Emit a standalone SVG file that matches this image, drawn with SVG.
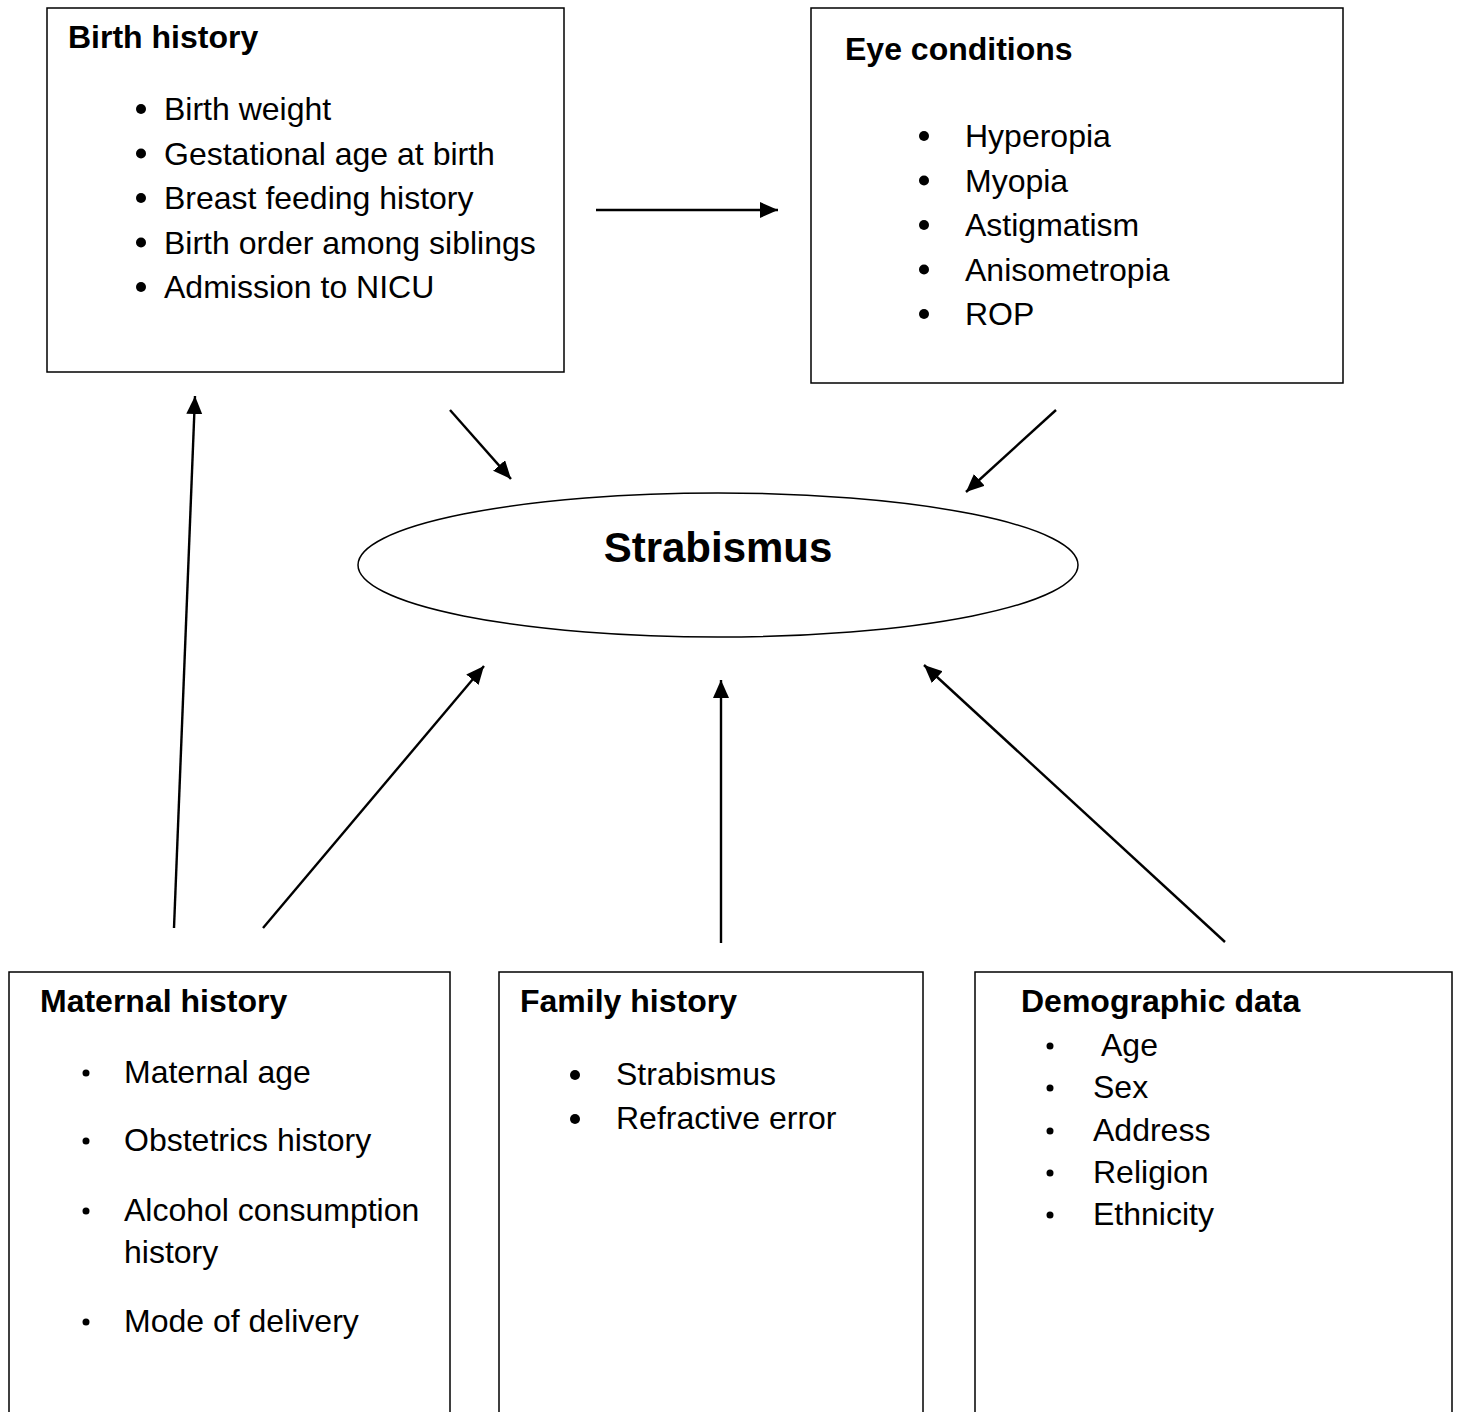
<svg xmlns="http://www.w3.org/2000/svg" width="1459" height="1412" viewBox="0 0 1459 1412">
<defs>
<marker id="ah" markerUnits="userSpaceOnUse" markerWidth="20" markerHeight="18" refX="18" refY="8" orient="auto">
<path d="M0,0 L18,8 L0,16 z" fill="#000"/>
</marker>
<style>
.box{fill:#fff;stroke:#000;stroke-width:1.5}
.t{font-family:"Liberation Sans",Arial,sans-serif;font-size:32px;fill:#000}
.b{font-weight:bold}
.c{stroke:#000;stroke-width:2.4;fill:none;marker-end:url(#ah)}
</style>
</defs>
<rect width="1459" height="1412" fill="#fff"/>
<g id="birth-history">
<rect class="box" x="47" y="8" width="517" height="364"/>
<text class="t b" x="68" y="48">Birth history</text>
<g fill="#000"><circle cx="141" cy="109" r="5"/><circle cx="141" cy="153.5" r="5"/><circle cx="141" cy="198" r="5"/><circle cx="141" cy="242.5" r="5"/><circle cx="141" cy="287" r="5"/></g>
<text class="t" x="164" y="120">Birth weight</text>
<text class="t" x="164" y="164.5">Gestational age at birth</text>
<text class="t" x="164" y="209">Breast feeding history</text>
<text class="t" x="164" y="253.5">Birth order among siblings</text>
<text class="t" x="164" y="298">Admission to NICU</text>
</g>
<g id="eye-conditions">
<rect class="box" x="811" y="8" width="532" height="375"/>
<text class="t b" x="845" y="60">Eye conditions</text>
<g fill="#000"><circle cx="924" cy="136" r="5"/><circle cx="924" cy="180.5" r="5"/><circle cx="924" cy="225" r="5"/><circle cx="924" cy="269.5" r="5"/><circle cx="924" cy="314" r="5"/></g>
<text class="t" x="965" y="147">Hyperopia</text>
<text class="t" x="965" y="191.5">Myopia</text>
<text class="t" x="965" y="236">Astigmatism</text>
<text class="t" x="965" y="280.5">Anisometropia</text>
<text class="t" x="965" y="325">ROP</text>
</g>
<g id="strabismus">
<ellipse cx="718" cy="565" rx="360" ry="72" fill="#fff" stroke="#000" stroke-width="1.5"/>
<text class="t b" x="718" y="562" text-anchor="middle" style="font-size:42px">Strabismus</text>
</g>
<g id="maternal-history">
<rect class="box" x="9" y="972" width="441" height="460"/>
<text class="t b" x="40" y="1012">Maternal history</text>
<g fill="#000"><circle cx="86" cy="1073" r="3.5"/><circle cx="86" cy="1141" r="3.5"/><circle cx="86" cy="1211" r="3.5"/><circle cx="86" cy="1322" r="3.5"/></g>
<text class="t" x="124" y="1083">Maternal age</text>
<text class="t" x="124" y="1151">Obstetrics history</text>
<text class="t" x="124" y="1221">Alcohol consumption</text>
<text class="t" x="124" y="1263">history</text>
<text class="t" x="124" y="1332">Mode of delivery</text>
</g>
<g id="family-history">
<rect class="box" x="499" y="972" width="424" height="460"/>
<text class="t b" x="520" y="1012">Family history</text>
<g fill="#000"><circle cx="575" cy="1075" r="5"/><circle cx="575" cy="1119" r="5"/></g>
<text class="t" x="616" y="1085">Strabismus</text>
<text class="t" x="616" y="1129">Refractive error</text>
</g>
<g id="demographic-data">
<rect class="box" x="975" y="972" width="477" height="460"/>
<text class="t b" x="1021" y="1012">Demographic data</text>
<g fill="#000"><circle cx="1050" cy="1046" r="3.5"/><circle cx="1050" cy="1088" r="3.5"/><circle cx="1050" cy="1131" r="3.5"/><circle cx="1050" cy="1173" r="3.5"/><circle cx="1050" cy="1215" r="3.5"/></g>
<text class="t" x="1101" y="1056">Age</text>
<text class="t" x="1093" y="1098">Sex</text>
<text class="t" x="1093" y="1141">Address</text>
<text class="t" x="1093" y="1183">Religion</text>
<text class="t" x="1093" y="1225">Ethnicity</text>
</g>
<g id="connectors">
<line class="c" x1="596" y1="210" x2="778" y2="210"/>
<line class="c" x1="450" y1="410" x2="511" y2="479"/>
<line class="c" x1="1056" y1="410" x2="966" y2="492"/>
<line class="c" x1="174" y1="928" x2="195" y2="396"/>
<line class="c" x1="263" y1="928" x2="484" y2="666"/>
<line class="c" x1="721" y1="943" x2="721" y2="680"/>
<line class="c" x1="1225" y1="942" x2="924" y2="665"/>
</g>
</svg>
